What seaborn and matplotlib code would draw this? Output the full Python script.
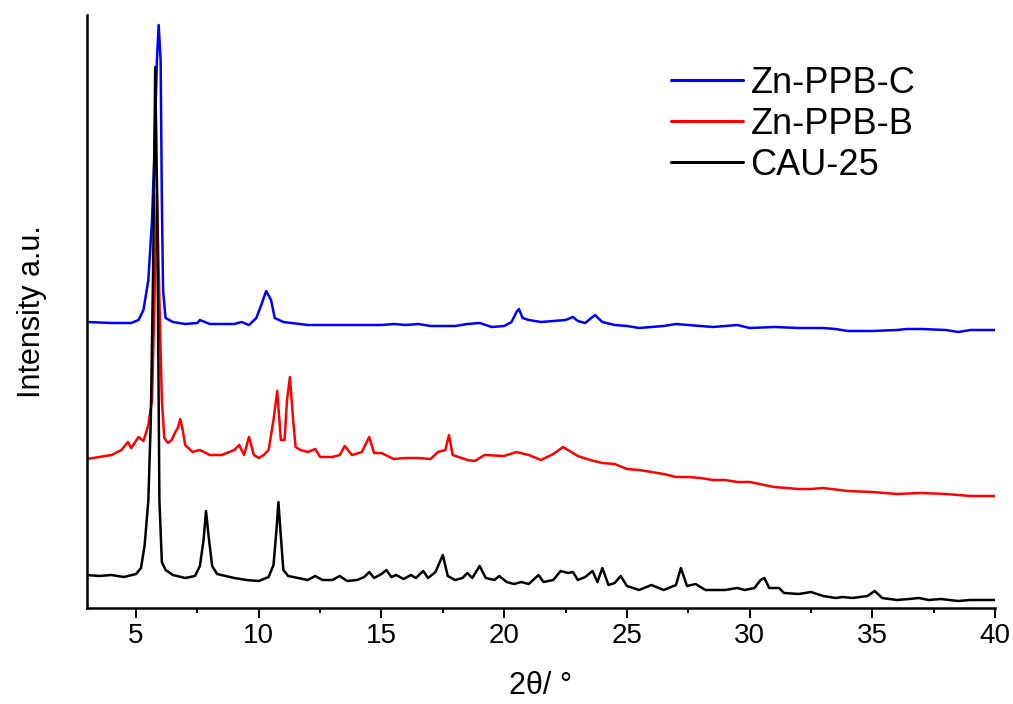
import numpy as np
import pandas as pd
import seaborn as sns
import matplotlib.pyplot as plt
from matplotlib.ticker import MultipleLocator

# powder XRD patterns (2theta in degrees, intensity a.u.)
cau25_x = [3.0, 3.5, 4.0, 4.5, 5.0, 5.2, 5.35, 5.5, 5.6, 5.7, 5.78, 5.86, 5.95, 6.05, 6.2,
           6.5, 7.0, 7.4, 7.6, 7.75, 7.85, 7.95, 8.1, 8.3, 9.0, 9.5, 10.0, 10.4, 10.6, 10.72,
           10.8, 10.88, 11.0, 11.2, 11.6, 12.0, 12.3, 12.6, 13.0, 13.3, 13.6, 14.0, 14.3, 14.5,
           14.7, 15.0, 15.2, 15.4, 15.6, 15.9, 16.2, 16.4, 16.7, 16.9, 17.2, 17.5, 17.7, 18.0,
           18.3, 18.5, 18.7, 19.0, 19.25, 19.6, 19.8, 20.1, 20.4, 20.7, 21.0, 21.4, 21.6, 22.0,
           22.3, 22.6, 22.8, 23.0, 23.3, 23.6, 23.8, 24.0, 24.25, 24.5, 24.75, 25.0, 25.5, 26.0,
           26.5, 27.0, 27.2, 27.45, 27.8, 28.2, 29.0, 29.5, 29.8, 30.2, 30.45, 30.6, 30.8, 31.2,
           31.4, 32.0, 32.5, 33.0, 33.5, 33.8, 34.2, 34.8, 35.1, 35.4, 36.0, 36.5, 36.9, 37.3,
           37.8, 38.5, 39.0, 40.0]
cau25_y = [33, 32, 33, 31, 34, 40, 63, 108, 188, 348, 541, 408, 108, 46, 38,
           33, 30, 32, 42, 68, 97, 73, 42, 34, 30, 28, 27, 31, 43, 78,
           106, 78, 38, 32, 30, 28, 32, 28, 28, 32, 27, 28, 31, 36,
           30, 34, 38, 31, 33, 29, 33, 30, 37, 30, 36, 53, 32, 28,
           30, 35, 30, 42, 30, 28, 32, 26, 24, 26, 24, 33, 26, 28,
           37, 35, 36, 28, 31, 37, 26, 40, 23, 25, 32, 22, 18, 23,
           18, 23, 40, 22, 24, 18, 18, 20, 18, 20, 28, 30, 20, 20,
           15, 14, 16, 12, 10, 11, 10, 12, 17, 10, 8, 9, 10, 8,
           9, 7, 8, 8]

zn_ppb_b_x = [3.0, 3.5, 4.0, 4.4, 4.67, 4.8, 5.1, 5.3, 5.5, 5.65, 5.75, 5.85, 5.95, 6.05, 6.15,
              6.3, 6.45, 6.6, 6.7, 6.8, 6.9, 7.0, 7.3, 7.6, 8.0, 8.5, 9.0, 9.2, 9.4, 9.6,
              9.8, 10.0, 10.2, 10.4, 10.6, 10.75, 10.9, 11.05, 11.15, 11.27, 11.4, 11.5, 11.7, 12.0,
              12.3, 12.5, 13.0, 13.3, 13.5, 13.8, 14.2, 14.5, 14.7, 15.0, 15.5, 16.0, 16.5, 17.0,
              17.3, 17.6, 17.75, 17.9, 18.5, 18.8, 19.2, 20.0, 20.5, 21.0, 21.5, 22.0, 22.4, 23.0,
              23.5, 24.0, 24.5, 25.0, 25.5, 26.0, 26.5, 27.0, 27.5, 28.0, 28.5, 29.0, 29.5, 30.0,
              31.0, 32.0, 32.5, 33.0, 34.0, 35.0, 36.0, 37.0, 38.0, 39.0, 40.0]
zn_ppb_b_y = [149, 151, 153, 158, 166, 160, 171, 167, 183, 208, 308, 413, 308, 208, 170,
              165, 168, 176, 180, 189, 178, 163, 156, 158, 153, 153, 158, 163, 153, 171,
              153, 150, 153, 158, 188, 217, 168, 168, 208, 231, 188, 161, 158, 156,
              159, 151, 151, 153, 162, 153, 156, 171, 155, 155, 149, 150, 150, 149,
              156, 158, 173, 153, 148, 147, 153, 152, 156, 153, 148, 154, 161, 152,
              148, 145, 144, 139, 138, 136, 134, 131, 131, 130, 128, 128, 126, 126,
              121, 119, 119, 120, 117, 116, 114, 115, 114, 112, 112]

zn_ppb_c_x = [3.0, 4.0, 4.8, 5.1, 5.3, 5.5, 5.65, 5.75, 5.85, 5.92, 6.0, 6.05, 6.1, 6.2, 6.5,
              7.0, 7.5, 7.6, 8.0, 8.5, 9.0, 9.3, 9.6, 9.9, 10.1, 10.3, 10.5, 10.65, 11.0,
              12.0, 13.0, 14.0, 15.0, 15.5, 16.0, 16.5, 17.0, 18.0, 18.5, 19.0, 19.5, 20.0, 20.3,
              20.5, 20.6, 20.75, 21.0, 21.5, 22.0, 22.5, 22.8, 23.0, 23.3, 23.7, 24.0, 24.5, 25.0,
              25.5, 26.0, 26.5, 27.0, 27.5, 28.0, 28.5, 29.0, 29.5, 30.0, 31.0, 32.0, 33.0, 33.5,
              34.0, 35.0, 36.0, 36.4, 37.0, 38.0, 38.5, 39.0, 40.0]
zn_ppb_c_y = [286, 285, 285, 288, 298, 328, 388, 458, 548, 583, 548, 408, 318, 290, 286,
              284, 285, 288, 284, 284, 284, 286, 283, 290, 303, 317, 308, 290, 286,
              283, 283, 283, 283, 284, 283, 284, 282, 282, 284, 285, 281, 282, 286,
              296, 299, 290, 288, 286, 287, 288, 291, 287, 285, 293, 286, 283, 282,
              280, 281, 282, 284, 283, 282, 281, 282, 283, 280, 281, 280, 280, 279,
              277, 277, 278, 279, 279, 278, 276, 278, 278]

labels = ["Zn-PPB-C", "Zn-PPB-B", "CAU-25"]
colors = ["#0000ff", "#ff0000", "#000000"]

df = pd.concat([
    pd.DataFrame({"two_theta": zn_ppb_c_x, "intensity": zn_ppb_c_y, "sample": labels[0]}),
    pd.DataFrame({"two_theta": zn_ppb_b_x, "intensity": zn_ppb_b_y, "sample": labels[1]}),
    pd.DataFrame({"two_theta": cau25_x, "intensity": cau25_y, "sample": labels[2]}),
])

sns.set_style("ticks")
plt.rcParams['font.family'] = ['Liberation Sans', 'DejaVu Sans']
plt.rcParams['text.color'] = 'black'
plt.rcParams['axes.labelcolor'] = 'black'
plt.rcParams['xtick.color'] = 'black'

fig = plt.figure(figsize=(10.13, 7.04), dpi=100)
ax = fig.add_axes([87/1013, 96/704, 908/1013, 593/704])

sns.lineplot(data=df, x="two_theta", y="intensity", hue="sample", hue_order=labels,
             palette=colors, linewidth=1.8, ax=ax, estimator=None, sort=True)

ax.set_xlim(3, 40)
ax.set_ylim(0, 593)
ax.xaxis.set_major_locator(MultipleLocator(5))
ax.xaxis.set_minor_locator(MultipleLocator(2.5))
ax.set_yticks([])
ax.tick_params(axis='x', which='major', direction='out', length=7, width=1.4,
               labelsize=20, pad=3.5, colors='black')
ax.tick_params(axis='x', which='minor', direction='out', length=3.6, width=1.4)
for side in ['top', 'right']:
    ax.spines[side].set_visible(False)
for side in ['left', 'bottom']:
    ax.spines[side].set_linewidth(1.8)
    ax.spines[side].set_color('black')

ax.set_xlabel("2θ/ °", fontsize=22, labelpad=16)
ax.set_ylabel("Intensity a.u.", fontsize=22, labelpad=29)

leg = ax.legend(loc='upper left', bbox_to_anchor=(671/1013, 1 - 66/704),
                bbox_transform=fig.transFigure, frameon=False, fontsize=26,
                handlelength=2.0, handletextpad=0.2, labelspacing=0.16,
                borderpad=0, borderaxespad=0)
for line in leg.get_lines():
    line.set_linewidth(2.2)

fig.savefig("out.png", dpi=100)
